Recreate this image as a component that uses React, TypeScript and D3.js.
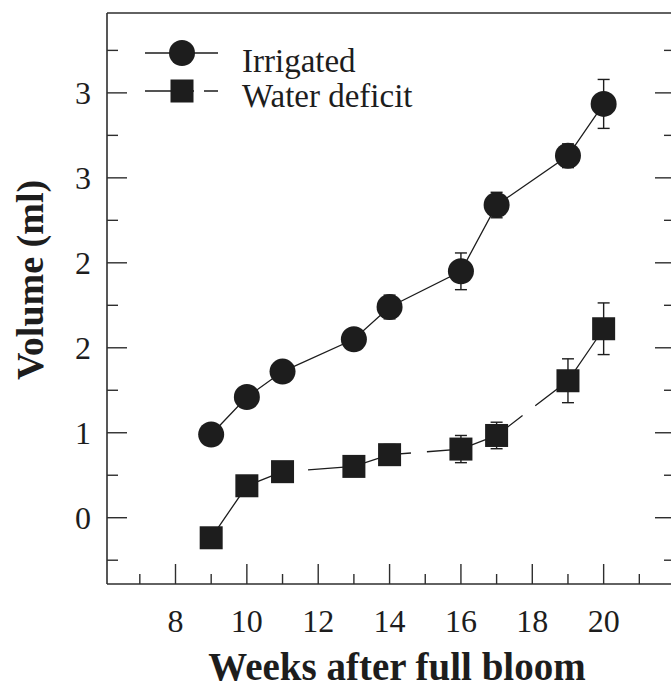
import React from "react";
import * as d3 from "d3";

// Sampling weeks after full bloom
const weeks = [9, 10, 11, 13, 14, 16, 17, 19, 20];

// Fruit volume, irrigated trees (mean and standard error)
const irrigated = [0.49, 0.71, 0.86, 1.05, 1.24, 1.45, 1.84, 2.13, 2.435];
const irrigatedErr = [0.04, 0.04, 0.05, 0.05, 0.07, 0.108, 0.075, 0.07, 0.144];

// Fruit volume, water-deficit trees (mean and standard error)
const deficit = [-0.118, 0.188, 0.271, 0.302, 0.371, 0.404, 0.484, 0.806, 1.112];
const deficitErr = [0.04, 0.04, 0.05, 0.05, 0.06, 0.08, 0.078, 0.129, 0.152];

// Axis ticks
const xTicksMajor = [8, 10, 12, 14, 16, 18, 20];
const xTicksMinor = [7, 9, 11, 13, 15, 17, 19, 21];
const yTicksMajor = [0, 0.5, 1, 1.5, 2, 2.5];
const yTickLabels = ["0", "1", "2", "2", "3", "3"];
const yTicksMinor = [-0.25, 0.25, 0.75, 1.25, 1.75, 2.25, 2.75];

const seriesNames = ["Irrigated", "Water deficit"];

const W = 671;
const H = 688;
const plot = { left: 107, right: 675, top: 13, bottom: 584 };

const serif = "'Liberation Serif', 'Times New Roman', serif";
const ink = "#1d1d1d";
const axisInk = "#2e2e2e";

export default function App() {
  const x = d3.scaleLinear().domain([6.08, 22]).range([plot.left, plot.right]);
  const y = d3.scaleLinear().domain([-0.39, 2.97]).range([plot.bottom, plot.top]);

  const line = d3
    .line<number>()
    .x((_, i) => x(weeks[i]))
    .y((d) => y(d));

  const circleR = 13;
  const sq = 23;
  const capHalf = 6;

  const errorBars = (vals: number[], errs: number[], key: string) =>
    vals.map((v, i) => {
      const cx = x(weeks[i]);
      const y1 = y(v + errs[i]);
      const y2 = y(v - errs[i]);
      return (
        <g key={`${key}-${i}`} stroke={ink} strokeWidth={1.4}>
          <line x1={cx} x2={cx} y1={y1} y2={y2} />
          <line x1={cx - capHalf} x2={cx + capHalf} y1={y1} y2={y1} />
          <line x1={cx - capHalf} x2={cx + capHalf} y1={y2} y2={y2} />
        </g>
      );
    });

  const legendX1 = 145;
  const legendX2 = 218;
  const legendMx = 182;
  const legendY = [53, 91];

  return (
    <svg
      width={W}
      height={H}
      viewBox={`0 0 ${W} ${H}`}
      style={{ position: "fixed", left: 0, top: 0, background: "#fff" }}
    >
      <rect x={0} y={0} width={W} height={H} fill="#fff" />

      {/* frame */}
      <g stroke={axisInk} strokeWidth={1.6} fill="none">
        <line x1={plot.left} x2={plot.left} y1={plot.top} y2={plot.bottom} />
        <line x1={plot.left} x2={plot.right} y1={plot.bottom} y2={plot.bottom} />
        <line x1={plot.left} x2={plot.right} y1={plot.top} y2={plot.top} />
        <line x1={plot.right} x2={plot.right} y1={plot.top} y2={plot.bottom} />
      </g>

      {/* x ticks, pointing inward */}
      <g stroke={axisInk} strokeWidth={1.4}>
        {xTicksMajor.map((t) => (
          <line key={`xM${t}`} x1={x(t)} x2={x(t)} y1={plot.bottom} y2={plot.bottom - 20} />
        ))}
        {xTicksMinor.map((t) => (
          <line key={`xm${t}`} x1={x(t)} x2={x(t)} y1={plot.bottom} y2={plot.bottom - 10} />
        ))}
      </g>

      {/* y ticks on both sides, pointing inward */}
      <g stroke={axisInk} strokeWidth={1.4}>
        {yTicksMajor.map((t) => (
          <g key={`yM${t}`}>
            <line x1={plot.left} x2={plot.left + 20} y1={y(t)} y2={y(t)} />
            <line x1={plot.right} x2={plot.right - 20} y1={y(t)} y2={y(t)} />
          </g>
        ))}
        {yTicksMinor.map((t) => (
          <g key={`ym${t}`}>
            <line x1={plot.left} x2={plot.left + 11} y1={y(t)} y2={y(t)} />
            <line x1={plot.right} x2={plot.right - 11} y1={y(t)} y2={y(t)} />
          </g>
        ))}
      </g>

      {/* tick labels */}
      <g fontFamily={serif} fontSize={32} fill={ink}>
        {xTicksMajor.map((t) => (
          <text key={`xl${t}`} x={x(t)} y={632} textAnchor="middle">
            {t}
          </text>
        ))}
        {yTicksMajor.map((t, i) => (
          <text key={`yl${t}`} x={91} y={y(t) + 11} textAnchor="end">
            {yTickLabels[i]}
          </text>
        ))}
      </g>

      {/* axis titles */}
      <text
        x={397}
        y={680}
        textAnchor="middle"
        fontFamily={serif}
        fontWeight="bold"
        fontSize={39}
        fill={ink}
      >
        Weeks after full bloom
      </text>
      <text
        transform={`translate(43, 280) rotate(-90)`}
        textAnchor="middle"
        fontFamily={serif}
        fontWeight="bold"
        fontSize={38}
        fill={ink}
      >
        Volume (ml)
      </text>

      {/* series lines */}
      <path d={line(irrigated) ?? ""} fill="none" stroke={ink} strokeWidth={1.3} />
      <path
        d={line(deficit) ?? ""}
        fill="none"
        stroke={ink}
        strokeWidth={1.3}
        strokeDasharray="105 16"
        strokeDashoffset={115}
      />

      {/* error bars */}
      {errorBars(irrigated, irrigatedErr, "ie")}
      {errorBars(deficit, deficitErr, "de")}

      {/* markers */}
      {irrigated.map((v, i) => (
        <circle key={`c${i}`} cx={x(weeks[i])} cy={y(v)} r={circleR} fill={ink} />
      ))}
      {deficit.map((v, i) => (
        <rect
          key={`s${i}`}
          x={x(weeks[i]) - sq / 2}
          y={y(v) - sq / 2}
          width={sq}
          height={sq}
          fill={ink}
        />
      ))}

      {/* legend */}
      <g>
        <line x1={legendX1} x2={legendX2} y1={legendY[0]} y2={legendY[0]} stroke={ink} strokeWidth={1.3} />
        <circle cx={legendMx} cy={legendY[0]} r={13} fill={ink} />
        <line
          x1={legendX1}
          x2={legendX2}
          y1={legendY[1]}
          y2={legendY[1]}
          stroke={ink}
          strokeWidth={1.3}
          strokeDasharray="49 10 100"
        />
        <rect x={legendMx - sq / 2} y={legendY[1] - sq / 2} width={sq} height={sq} fill={ink} />
        <g fontFamily={serif} fontSize={33} fill={ink}>
          <text x={242} y={72}>
            {seriesNames[0]}
          </text>
          <text x={242} y={107}>
            {seriesNames[1]}
          </text>
        </g>
      </g>
    </svg>
  );
}
